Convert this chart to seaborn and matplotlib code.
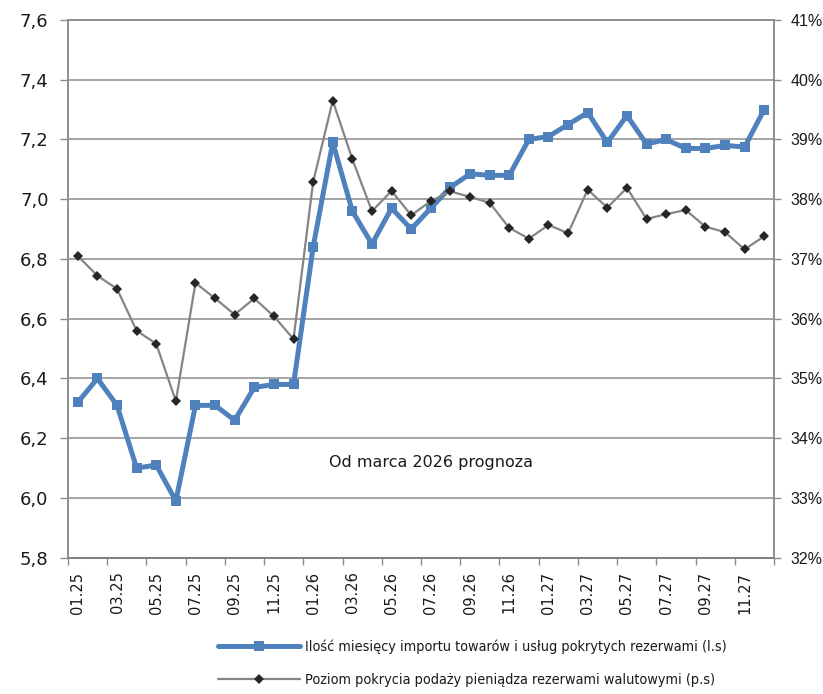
import matplotlib
matplotlib.use("Agg")
import matplotlib.pyplot as plt
from matplotlib.lines import Line2D
from matplotlib.ticker import FixedLocator, FuncFormatter
from matplotlib import font_manager
import numpy as np
import pandas as pd
import seaborn as sns

# months 01.25 .. 12.27
months = ["01.25", "02.25", "03.25", "04.25", "05.25", "06.25", "07.25", "08.25", "09.25", "10.25", "11.25", "12.25",
          "01.26", "02.26", "03.26", "04.26", "05.26", "06.26", "07.26", "08.26", "09.26", "10.26", "11.26", "12.26",
          "01.27", "02.27", "03.27", "04.27", "05.27", "06.27", "07.27", "08.27", "09.27", "10.27", "11.27", "12.27"]

# months of imports covered by reserves (left scale)
import_cover = [6.32, 6.40, 6.31, 6.10, 6.11, 5.99, 6.31, 6.31, 6.26, 6.37, 6.38, 6.38,
                6.84, 7.19, 6.96, 6.85, 6.97, 6.90, 6.97, 7.04, 7.085, 7.08, 7.08, 7.20,
                7.21, 7.25, 7.29, 7.19, 7.28, 7.185, 7.20, 7.17, 7.17, 7.18, 7.175, 7.30]

# money supply coverage by FX reserves, % (right scale)
money_cover = [37.05, 36.72, 36.50, 35.80, 35.58, 34.62, 36.60, 36.34, 36.07, 36.34, 36.04, 35.66,
               38.29, 39.65, 38.67, 37.80, 38.14, 37.73, 37.97, 38.13, 38.04, 37.94, 37.52, 37.34,
               37.57, 37.43, 38.16, 37.86, 38.19, 37.67, 37.75, 37.82, 37.54, 37.45, 37.16, 37.38]

label_blue = "Ilość miesięcy importu towarów i usług pokrytych rezerwami (l.s)"
label_gray = "Poziom pokrycia podaży pieniądza rezerwami walutowymi (p.s)"
note = "Od marca 2026 prognoza"

df = pd.DataFrame({"pos": np.arange(len(months)), "month": months,
                   "imports": import_cover, "money": money_cover})

sns.set_theme(style="white")
plt.rcParams["font.family"] = ["DejaVu Sans"]

blue = "#4F81BD"
grid_col = "#8C8C8C"
txt = "#1A1A1A"

# narrow font for the legend, if a condensed face is installed
cond = font_manager.FontProperties(family="DejaVu Sans", stretch="condensed")
if "Condensed" in font_manager.findfont(cond):
    legend_prop = {"family": "DejaVu Sans", "stretch": "condensed", "size": 10.4}
else:
    legend_prop = {"family": "DejaVu Sans", "size": 8.5}

fig = plt.figure(figsize=(8.23, 6.94), dpi=100)
ax = fig.add_axes([68 / 823, 1 - 557.7 / 694, 706 / 823, 537.7 / 694])

sns.lineplot(data=df, x="pos", y="imports", ax=ax, color=blue, linewidth=3.6,
             marker="s", markersize=7.2, markeredgewidth=0, markerfacecolor=blue)

ax2 = ax.twinx()
sns.lineplot(data=df, x="pos", y="money", ax=ax2, color="#858585", linewidth=1.6,
             marker="D", markersize=4.8, markeredgewidth=0, markerfacecolor="#262626")

ax.set_xlim(-0.5, len(months) - 0.5)
ax.set_ylim(5.8, 7.6)
ax2.set_ylim(32, 41)
ax.set_xlabel("")
ax.set_ylabel("")
ax2.set_ylabel("")

# y ticks
ax.set_yticks(np.arange(5.8, 7.61, 0.2))
ax.yaxis.set_major_formatter(FuncFormatter(lambda v, p: f"{v:.1f}".replace(".", ",")))
ax2.set_yticks(np.arange(32, 42, 1))
ax2.yaxis.set_major_formatter(FuncFormatter(lambda v, p: f"{v:.0f}%"))

ax.tick_params(axis="y", which="major", length=6, width=1, color=grid_col, pad=8,
               labelsize=13, labelcolor=txt, left=True)
ax2.tick_params(axis="y", which="major", length=5, width=1, color=grid_col, pad=7,
                labelsize=11.5, labelcolor=txt, right=True)
for t in ax2.get_yticklabels():
    t.set_fontfamily("Liberation Sans")

# x ticks: marks at every second boundary, labels at odd months
ax.xaxis.set_major_locator(FixedLocator(np.arange(-0.5, len(months), 2)))
ax.xaxis.set_major_formatter(FuncFormatter(lambda v, p: ""))
ax.xaxis.set_minor_locator(FixedLocator(df["pos"][::2]))
ax.set_xticklabels(months[::2], minor=True, rotation=90, fontsize=10.5, color=txt)
ax.tick_params(axis="x", which="major", length=5, width=1, color=grid_col, bottom=True)
ax.tick_params(axis="x", which="minor", length=0, pad=10)

ax.grid(axis="y", color=grid_col, linewidth=1.1)
ax.grid(axis="x", visible=False)
ax2.grid(False)
for a in (ax, ax2):
    for s in a.spines.values():
        s.set_color(grid_col)
        s.set_linewidth(1.1)
ax.spines["bottom"].set_color("#404040")

ax.text(18.0, 6.12, note, ha="center", va="center", fontsize=11.5, color=txt)

handles = [
    Line2D([], [], color=blue, linewidth=3.6, marker="s", markersize=7.2, markeredgewidth=0),
    Line2D([], [], color="#858585", linewidth=1.6, marker="D", markersize=4.8,
           markeredgewidth=0, markerfacecolor="#262626"),
]
fig.legend(handles, [label_blue, label_gray], loc="upper left",
           bbox_to_anchor=(218 / 823, 1 - 640 / 694), frameon=False,
           borderpad=0, borderaxespad=0, handlelength=5.7, handletextpad=0.35,
           labelspacing=1.3, prop=legend_prop, labelcolor=txt)

fig.savefig("out.png", dpi=100)
